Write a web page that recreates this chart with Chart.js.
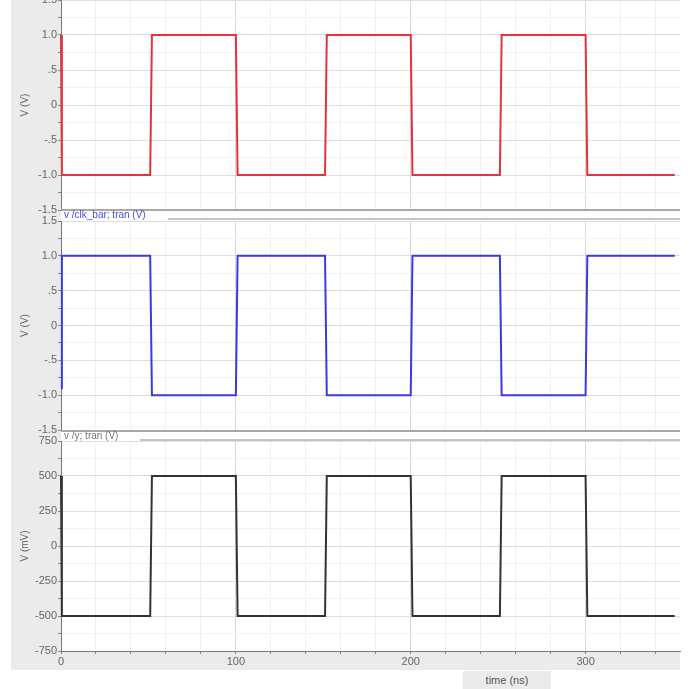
<!DOCTYPE html>
<html>
<head>
<meta charset="utf-8">
<script src="https://cdn.jsdelivr.net/npm/chart.js@4.4.1/dist/chart.umd.min.js"></script>
<style>
  html, body { margin: 0; padding: 0; background: #ffffff; width: 692px; height: 689px; overflow: hidden; }
  .abs { position: absolute; }
  canvas { position: absolute; left: 0; }
  .gray { background: #ebebeb; }
  .sep { background: #a8a8a8; height: 2px; }
  .lbl { font-family: "Liberation Sans", sans-serif; font-size: 10px; white-space: nowrap; line-height: 10px; }
</style>
</head>
<body>
<div class="abs gray" style="left:11px; top:0; width:50px; height:670px;"></div>
<div class="abs gray" style="left:11px; top:651px; width:669px; height:19px;"></div>
<div class="abs gray lbl" style="left:463px; top:671px; width:88px; height:18px; line-height:18px; text-align:center; font-size:11px; color:#555;">time (ns)</div>

<canvas id="c1" width="692" height="230" style="top:-10px;"></canvas>
<canvas id="c2" width="692" height="229" style="top:211px;"></canvas>
<canvas id="c3" width="692" height="240" style="top:431px;"></canvas>

<div class="abs sep" style="left:61px; top:209px; width:619px;"></div>
<div class="abs sep" style="left:168px; top:218px; width:512px; background:#c4c4c4;"></div>
<div class="abs lbl" style="left:64px; top:210px; color:#4a4ae6;">v /clk_bar; tran (V)</div>

<div class="abs sep" style="left:61px; top:430px; width:619px;"></div>
<div class="abs sep" style="left:140px; top:439px; width:540px; background:#c4c4c4;"></div>
<div class="abs lbl" style="left:64px; top:431px; color:#777;">v /y; tran (V)</div>

<script>
// ---- data ----
const timeNs   = [0, 0.5, 51, 52, 100, 101, 151, 152, 200, 201, 251, 252, 300, 301, 351];
const clkV     = [1, -1, -1, 1, 1, -1, -1, 1, 1, -1, -1, 1, 1, -1, -1];
const clkBarV  = [-0.9, 1, 1, -1, -1, 1, 1, -1, -1, 1, 1, -1, -1, 1, 1];
const yMv      = [500, -500, -500, 500, 500, -500, -500, 500, 500, -500, -500, 500, 500, -500, -500];
const xTickLabels = [0, 100, 200, 300];
const voltTickLabels = [-1.5, -1.0, -0.5, 0, 0.5, 1.0, 1.5];
const mvTickLabels = [-750, -500, -250, 0, 250, 500, 750];

const FONT = "Liberation Sans";
const pts = (ys) => timeNs.map((t, i) => ({ x: t, y: ys[i] }));
const near = (v, arr) => arr.some(a => Math.abs(a - v) < 1e-6);

function fmtVolt(v) {
  if (Math.abs(v) < 1e-9) return '0';
  if (Math.abs(Math.abs(v) - 0.5) < 1e-9) return v < 0 ? '-.5' : '.5';
  return v.toFixed(1);
}

function makeChart(id, ys, color, opts) {
  const ctx = document.getElementById(id);
  return new Chart(ctx, {
    type: 'line',
    data: {
      datasets: [{
        data: pts(ys),
        borderColor: color,
        borderWidth: 2,
        pointRadius: 0,
        tension: 0,
        fill: false,
        clip: 3
      }]
    },
    options: {
      responsive: false,
      animation: false,
      events: [],
      layout: { padding: { top: 10, bottom: opts.bottomPad, left: 11, right: 12 } },
      plugins: { legend: { display: false }, tooltip: { enabled: false } },
      scales: {
        x: {
          type: 'linear',
          min: 0, max: 354,
          afterBuildTicks: (s) => {
            const t = [];
            for (let v = 0; v <= 340; v += 20) t.push({ value: v });
            s.ticks = t;
          },
          afterFit: (s) => { s.height = opts.showX ? 20 : 0; },
          border: { display: opts.showX, color: '#777', width: 1 },
          grid: {
            drawTicks: opts.showX,
            tickLength: 3,
            tickColor: '#888',
            color: (c) => (c.tick && near(c.tick.value, xTickLabels)) ? '#d8d8d8' : '#f1f1f1',
            lineWidth: 1
          },
          ticks: {
            display: opts.showX,
            autoSkip: false,
            maxRotation: 0,
            padding: 1,
            color: '#666',
            font: { family: FONT, size: 11 },
            callback: (v) => near(v, xTickLabels) ? String(Math.round(v)) : ''
          }
        },
        y: {
          type: 'linear',
          min: opts.min, max: opts.max,
          afterBuildTicks: (s) => {
            const t = [];
            const n = Math.round((opts.max - opts.min) / opts.step);
            for (let i = 0; i <= n; i++) t.push({ value: opts.min + i * opts.step });
            s.ticks = t;
          },
          afterFit: (s) => { s.width = 50; },
          border: { display: true, color: '#777', width: 1 },
          grid: {
            drawTicks: true,
            tickLength: 3,
            tickColor: '#888',
            color: (c) => (c.tick && near(c.tick.value, opts.labels)) ? '#dedede' : '#f2f2f2',
            lineWidth: 1
          },
          ticks: {
            autoSkip: false,
            padding: 1,
            color: '#666',
            font: { family: FONT, size: 11 },
            callback: (v) => near(v, opts.labels) ? opts.fmt(v) : ''
          },
          title: {
            display: true,
            text: opts.title,
            color: '#666',
            font: { family: FONT, size: 10 },
            padding: { top: 8, bottom: 0 }
          }
        }
      }
    }
  });
}

makeChart('c1', clkV, '#e3323e', {
  min: -1.5, max: 1.5, step: 0.25, labels: voltTickLabels, fmt: fmtVolt,
  title: 'V (V)', showX: false, bottomPad: 10
});
makeChart('c2', clkBarV, '#3a3ae2', {
  min: -1.5, max: 1.5, step: 0.25, labels: voltTickLabels, fmt: fmtVolt,
  title: 'V (V)', showX: false, bottomPad: 10
});
makeChart('c3', yMv, '#333333', {
  min: -750, max: 750, step: 125, labels: mvTickLabels, fmt: (v) => String(Math.round(v)),
  title: 'V (mV)', showX: true, bottomPad: 0
});
</script>
</body>
</html>
